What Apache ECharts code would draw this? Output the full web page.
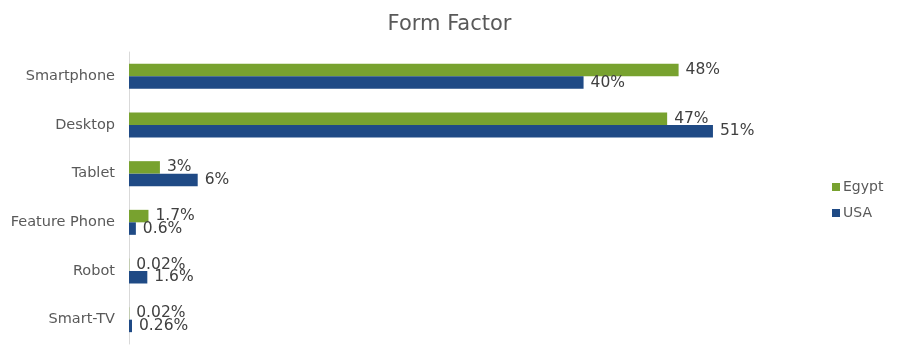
<!DOCTYPE html>
<html><head><meta charset="utf-8">
<script src="https://cdn.jsdelivr.net/npm/echarts@6/dist/echarts.min.js"></script>
<style>html,body{margin:0;padding:0;background:#fff}#c{width:899px;height:359px}</style>
</head><body><div id="c"></div>
<script>
var categories = ['Smartphone', 'Desktop', 'Tablet', 'Feature Phone', 'Robot', 'Smart-TV'];
var egyptValues = [48, 47, 2.7, 1.7, 0.02, 0.02];
var usaValues = [39.7, 51, 6, 0.6, 1.6, 0.26];
var egyptLabels = ['48%', '47%', '3%', '1.7%', '0.02%', '0.02%'];
var usaLabels = ['40%', '51%', '6%', '0.6%', '1.6%', '0.26%'];

var FONT = '"DejaVu Sans", Verdana, sans-serif';
var chart = echarts.init(document.getElementById('c'), null, {renderer: 'canvas'});
chart.setOption({
  animation: false,
  title: {text: 'Form Factor', left: 'center', top: 9,
    textStyle: {fontFamily: FONT, fontSize: 21, fontWeight: 'normal', color: '#595959'}},
  legend: {orient: 'vertical', left: 827, top: 175, itemWidth: 8, itemHeight: 8, itemGap: 12,
    icon: 'rect', data: ['Egypt', 'USA'],
    textStyle: {fontFamily: FONT, fontSize: 14, color: '#595959', padding: [0, 0, 0, -2]}},
  grid: {left: 129, right: 83, top: 52, bottom: 15, containLabel: false},
  xAxis: {type: 'value', min: 0, max: 60, show: false},
  yAxis: {type: 'category', data: categories, inverse: true,
    axisLine: {show: true, lineStyle: {color: '#d9d9d9'}}, axisTick: {show: false},
    axisLabel: {fontFamily: FONT, fontSize: 14.5, color: '#595959', margin: 14}},
  series: [
    {name: 'Egypt', type: 'bar', data: egyptValues, barWidth: 12.5, barGap: '0%',
      itemStyle: {color: '#78A22F'},
      label: {show: true, position: 'right', distance: 7, fontFamily: FONT, fontSize: 15.5, color: '#404040',
        formatter: function (p) { return egyptLabels[p.dataIndex]; }}},
    {name: 'USA', type: 'bar', data: usaValues, barWidth: 12.5, barGap: '0%',
      itemStyle: {color: '#1F4A85'},
      label: {show: true, position: 'right', distance: 7, fontFamily: FONT, fontSize: 15.5, color: '#404040',
        formatter: function (p) { return usaLabels[p.dataIndex]; }}}
  ]
});
</script></body></html>
